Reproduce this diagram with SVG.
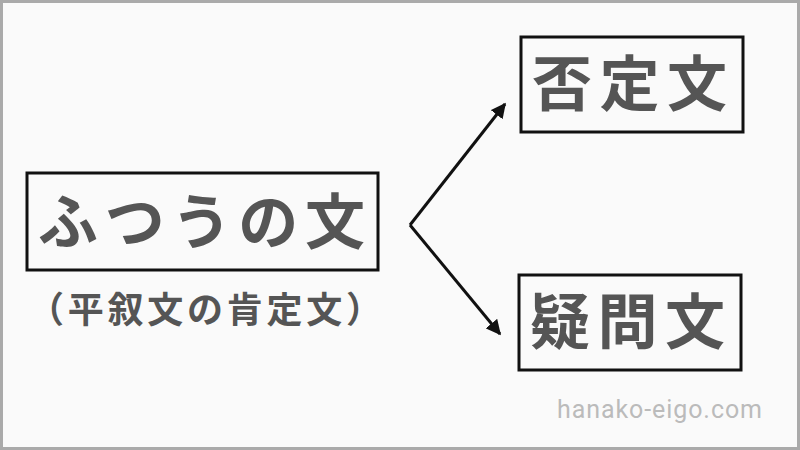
<svg xmlns="http://www.w3.org/2000/svg" width="800" height="450" viewBox="0 0 800 450">
<defs>
<style>
.box{fill:none;stroke:#111;stroke-width:3}
.t{font-family:"Noto Sans CJK JP","Noto Sans",sans-serif;font-weight:bold;fill:#555}
.c{stroke:#111;stroke-width:3;fill:none}
</style>
<marker id="ah" viewBox="0 0 10 10" refX="9" refY="5" markerWidth="5" markerHeight="5" orient="auto"><path d="M0,0 L10,5 L0,10 z" fill="#111"/></marker>
</defs>
<rect x="1.5" y="1.5" width="797" height="447" fill="#fafafa" stroke="#aaa" stroke-width="3"/>
<g id="plain"><rect class="box" x="27" y="173" width="351" height="97"/><text class="t" x="38" y="244" font-size="60" textLength="327" lengthAdjust="spacing">ふつうの文</text></g>
<g id="plain-sub"><text class="t" x="28" y="323" font-size="36" textLength="354" lengthAdjust="spacing">（平叙文の肯定文）</text></g>
<g id="negative"><rect class="box" x="521" y="37" width="222" height="95"/><text class="t" x="532" y="106" font-size="60" textLength="195" lengthAdjust="spacing">否定文</text></g>
<g id="question"><rect class="box" x="519" y="275" width="222" height="95"/><text class="t" x="530" y="344" font-size="60" textLength="195" lengthAdjust="spacing">疑問文</text></g>
<g id="connectors">
<path class="c" d="M410,225 L505,104" marker-end="url(#ah)"/>
<path class="c" d="M410,225 L500,334" marker-end="url(#ah)"/>
</g>
<text x="557" y="418" font-family="Roboto,'Liberation Sans',sans-serif" font-size="25" fill="#bbb" textLength="205" lengthAdjust="spacing">hanako-eigo.com</text>
</svg>
